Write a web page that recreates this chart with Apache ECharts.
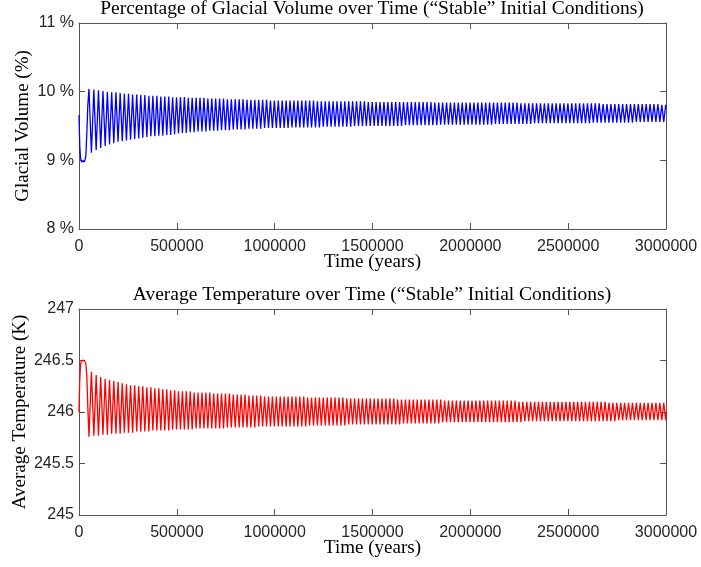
<!DOCTYPE html>
<html>
<head>
<meta charset="utf-8">
<title>Glacial volume and temperature</title>
<script src="https://cdn.jsdelivr.net/npm/echarts@6/dist/echarts.min.js"></script>
<style>
  html, body { margin: 0; padding: 0; background: #fff; }
  #chart { width: 701px; height: 567px; }
</style>
</head>
<body>
<div id="chart"></div>
<script>
// ---- Simulation output (times in thousands of years) ----

// Initial transient before the first ice maximum
const startTimes = [0, 4, 8, 13, 20, 28, 35, 40, 45];
const startVolume = [9.66, 9.20, 9.03, 8.98, 8.97, 8.98, 9.06, 9.40, 9.80];
const startTemperature = [246.00, 246.32, 246.46, 246.50, 246.51, 246.50, 246.47, 246.35, 246.05];

// Times of each ice-volume maximum (cycle crest)
const iceMaxTimes = [
  51, 76, 99.5, 122.5, 145, 167, 188.8, 210.4, 231.8, 253,
  274, 294.9, 315.7, 336.4, 357, 377.5, 397.9, 418.2, 438.4, 458.5,
  478.5,
  498.5, 518.5, 538.5, 558.5, 578.5, 598.5, 618.5, 638.5, 658.5, 678.5,
  698.5, 718.5, 738.5, 758.5, 778.5, 798.5, 818.5, 838.5, 858.5, 878.5,
  898.5, 918.5, 938.5, 958.5, 978.5, 998.5, 1018.5, 1038.5, 1058.5, 1078.5,
  1098.5, 1118.5, 1138.5, 1158.5, 1178.5, 1198.5, 1218.5, 1238.5, 1258.5, 1278.5,
  1298.5, 1318.5, 1338.5, 1358.5, 1378.5, 1398.5, 1418.5, 1438.5, 1458.5, 1478.5,
  1498.5, 1518.5, 1538.5, 1558.5, 1578.5, 1598.5, 1618.5, 1638.5, 1658.5, 1678.5,
  1698.5, 1718.5, 1738.5, 1758.5, 1778.5, 1798.5, 1818.5, 1838.5, 1858.5, 1878.5,
  1898.5, 1918.5, 1938.5, 1958.5, 1978.5, 1998.5, 2018.5, 2038.5, 2058.5, 2078.5,
  2098.5, 2118.5, 2138.5, 2158.5, 2178.5, 2198.5, 2218.5, 2238.5, 2258.5, 2278.5,
  2298.5, 2318.5, 2338.5, 2358.5, 2378.5, 2398.5, 2418.5, 2438.5, 2458.5, 2478.5,
  2498.5, 2518.5, 2538.5, 2558.5, 2578.5, 2598.5, 2618.5, 2638.5, 2658.5, 2678.5,
  2698.5, 2718.5, 2738.5, 2758.5, 2778.5, 2798.5, 2818.5, 2838.5, 2858.5, 2878.5,
  2898.5, 2918.5, 2938.5, 2958.5, 2978.5, 2998.5
];

// Times of each ice-volume minimum (cycle trough)
const iceMinTimes = [
  63.5, 87.8, 111, 133.8, 156, 177.9, 199.6, 221.1, 242.4, 263.5,
  284.5, 305.3, 326, 346.7, 367.3, 387.7, 408, 428.3, 448.5, 468.5,
  488.5,
  508.5, 528.5, 548.5, 568.5, 588.5, 608.5, 628.5, 648.5, 668.5, 688.5,
  708.5, 728.5, 748.5, 768.5, 788.5, 808.5, 828.5, 848.5, 868.5, 888.5,
  908.5, 928.5, 948.5, 968.5, 988.5, 1008.5, 1028.5, 1048.5, 1068.5, 1088.5,
  1108.5, 1128.5, 1148.5, 1168.5, 1188.5, 1208.5, 1228.5, 1248.5, 1268.5, 1288.5,
  1308.5, 1328.5, 1348.5, 1368.5, 1388.5, 1408.5, 1428.5, 1448.5, 1468.5, 1488.5,
  1508.5, 1528.5, 1548.5, 1568.5, 1588.5, 1608.5, 1628.5, 1648.5, 1668.5, 1688.5,
  1708.5, 1728.5, 1748.5, 1768.5, 1788.5, 1808.5, 1828.5, 1848.5, 1868.5, 1888.5,
  1908.5, 1928.5, 1948.5, 1968.5, 1988.5, 2008.5, 2028.5, 2048.5, 2068.5, 2088.5,
  2108.5, 2128.5, 2148.5, 2168.5, 2188.5, 2208.5, 2228.5, 2248.5, 2268.5, 2288.5,
  2308.5, 2328.5, 2348.5, 2368.5, 2388.5, 2408.5, 2428.5, 2448.5, 2468.5, 2488.5,
  2508.5, 2528.5, 2548.5, 2568.5, 2588.5, 2608.5, 2628.5, 2648.5, 2668.5, 2688.5,
  2708.5, 2728.5, 2748.5, 2768.5, 2788.5, 2808.5, 2828.5, 2848.5, 2868.5, 2888.5,
  2908.5, 2928.5, 2948.5, 2968.5, 2988.5
];

// Glacial volume (%) at each crest
const volumeMax = [
  10.04, 10.03, 10.02, 10.01, 10.00, 9.99, 9.99, 9.98, 9.97, 9.97,
  9.96, 9.96, 9.95, 9.95, 9.94, 9.94, 9.94, 9.93, 9.93, 9.93,
  9.92,
  9.92, 9.92, 9.92, 9.91, 9.91, 9.91, 9.91, 9.91, 9.90, 9.90,
  9.90, 9.90, 9.90, 9.89, 9.89, 9.89, 9.89, 9.89, 9.88, 9.88,
  9.88, 9.88, 9.88, 9.88, 9.87, 9.87,
  9.87, 9.87, 9.87, 9.87, 9.87, 9.87, 9.87, 9.87, 9.87, 9.87,
  9.86, 9.86, 9.86, 9.86, 9.86, 9.86, 9.86, 9.86, 9.86, 9.86,
  9.86, 9.86, 9.86, 9.85, 9.85,
  9.85, 9.85, 9.85, 9.85, 9.85, 9.85, 9.85, 9.85, 9.85, 9.85,
  9.85, 9.85, 9.85, 9.85, 9.85, 9.84, 9.84, 9.84, 9.84, 9.84,
  9.84, 9.84, 9.84, 9.84, 9.84,
  9.84, 9.84, 9.84, 9.84, 9.84, 9.84, 9.84, 9.84, 9.84, 9.84,
  9.84, 9.84, 9.83, 9.83, 9.83, 9.83, 9.83, 9.83, 9.83, 9.83,
  9.83, 9.83, 9.83, 9.83, 9.83,
  9.83, 9.83, 9.83, 9.83, 9.83, 9.83, 9.83, 9.83, 9.82, 9.82,
  9.82, 9.82, 9.82, 9.82, 9.82, 9.82, 9.82, 9.82, 9.82, 9.82,
  9.82, 9.82, 9.82, 9.81, 9.81
];

// Glacial volume (%) at each trough
const volumeMin = [
  9.11, 9.15, 9.18, 9.21, 9.23, 9.25, 9.27, 9.28, 9.29, 9.30,
  9.31, 9.32, 9.33, 9.34, 9.35, 9.35, 9.36, 9.36, 9.37, 9.37,
  9.38,
  9.39, 9.40, 9.40, 9.41, 9.41, 9.42, 9.42, 9.42, 9.43, 9.43,
  9.43, 9.44, 9.44, 9.44, 9.45, 9.45, 9.45, 9.45, 9.46, 9.46,
  9.46, 9.46, 9.47, 9.47, 9.47,
  9.47, 9.47, 9.47, 9.47, 9.48, 9.48, 9.48, 9.48, 9.48, 9.48,
  9.48, 9.48, 9.49, 9.49, 9.49, 9.49, 9.49, 9.49, 9.49, 9.49,
  9.50, 9.50, 9.50, 9.50, 9.50,
  9.50, 9.50, 9.50, 9.50, 9.50, 9.50, 9.50, 9.50, 9.51, 9.51,
  9.51, 9.51, 9.51, 9.51, 9.51, 9.51, 9.51, 9.52, 9.52, 9.52,
  9.52, 9.52, 9.52, 9.52, 9.52,
  9.52, 9.52, 9.52, 9.52, 9.52, 9.52, 9.53, 9.53, 9.53, 9.53,
  9.53, 9.53, 9.53, 9.53, 9.53, 9.53, 9.54, 9.54, 9.54, 9.54,
  9.54, 9.54, 9.54, 9.54, 9.54,
  9.54, 9.54, 9.54, 9.54, 9.54, 9.54, 9.55, 9.55, 9.55, 9.55,
  9.55, 9.55, 9.55, 9.55, 9.55, 9.55, 9.55, 9.56, 9.56, 9.56,
  9.56, 9.56, 9.56, 9.56, 9.56
];

// Average temperature (K) at each ice crest (temperature low)
const temperatureMin = [
  245.76, 245.77, 245.77, 245.78, 245.78, 245.79, 245.79, 245.79, 245.80, 245.80,
  245.80, 245.81, 245.81, 245.81, 245.81, 245.82, 245.82, 245.82, 245.82, 245.82,
  245.83,
  245.83, 245.83, 245.83, 245.83, 245.83, 245.84, 245.84, 245.84, 245.84, 245.84,
  245.84, 245.84, 245.84, 245.85, 245.85, 245.85, 245.85, 245.85, 245.85, 245.85,
  245.85, 245.86, 245.86, 245.86, 245.86, 245.86,
  245.86, 245.86, 245.86, 245.86, 245.86, 245.86, 245.86, 245.86, 245.87, 245.87,
  245.87, 245.87, 245.87, 245.87, 245.87, 245.87, 245.87, 245.87, 245.88, 245.88,
  245.88, 245.88, 245.88, 245.88, 245.88,
  245.88, 245.88, 245.88, 245.88, 245.88, 245.88, 245.88, 245.89, 245.89, 245.89,
  245.89, 245.89, 245.89, 245.89, 245.89, 245.89, 245.89, 245.90, 245.90, 245.90,
  245.90, 245.90, 245.90, 245.90, 245.90,
  245.90, 245.90, 245.90, 245.90, 245.90, 245.90, 245.90, 245.90, 245.90, 245.90,
  245.90, 245.90, 245.90, 245.91, 245.91, 245.91, 245.91, 245.91, 245.91, 245.91,
  245.91, 245.91, 245.91, 245.91, 245.91,
  245.91, 245.91, 245.91, 245.91, 245.91, 245.91, 245.91, 245.91, 245.91, 245.91,
  245.91, 245.91, 245.92, 245.92, 245.92, 245.92, 245.92, 245.92, 245.92, 245.92,
  245.92, 245.92, 245.92, 245.92, 245.92
];

// Average temperature (K) at each ice trough (temperature high)
const temperatureMax = [
  246.39, 246.36, 246.34, 246.32, 246.31, 246.30, 246.29, 246.28, 246.27, 246.26,
  246.26, 246.25, 246.25, 246.24, 246.24, 246.23, 246.23, 246.22, 246.22, 246.21,
  246.21,
  246.20, 246.20, 246.20, 246.20, 246.19, 246.19, 246.19, 246.19, 246.19, 246.18,
  246.18, 246.18, 246.18, 246.18, 246.17, 246.17, 246.17, 246.17, 246.16, 246.16,
  246.16, 246.16, 246.15, 246.15, 246.15,
  246.15, 246.15, 246.15, 246.15, 246.15, 246.15, 246.15, 246.15, 246.14, 246.14,
  246.14, 246.14, 246.14, 246.14, 246.14, 246.14, 246.14, 246.14, 246.13, 246.13,
  246.13, 246.13, 246.13, 246.13, 246.13,
  246.13, 246.13, 246.13, 246.13, 246.13, 246.13, 246.12, 246.12, 246.12, 246.12,
  246.12, 246.12, 246.12, 246.12, 246.12, 246.12, 246.12, 246.12, 246.11, 246.11,
  246.11, 246.11, 246.11, 246.11, 246.11,
  246.11, 246.11, 246.11, 246.11, 246.11, 246.11, 246.11, 246.11, 246.11, 246.11,
  246.11, 246.11, 246.10, 246.10, 246.10, 246.10, 246.10, 246.10, 246.10, 246.10,
  246.10, 246.10, 246.10, 246.10, 246.10,
  246.10, 246.10, 246.10, 246.10, 246.10, 246.10, 246.10, 246.10, 246.10, 246.10,
  246.09, 246.09, 246.09, 246.09, 246.09, 246.09, 246.09, 246.09, 246.09, 246.09,
  246.09, 246.09, 246.09, 246.09, 246.09
];

// Final sample at the end of the run
const endTime = 3000;
const endVolume = 9.75;
const endTemperature = 246.00;

// Axis tick labels
const timeTicks = [0, 500000, 1000000, 1500000, 2000000, 2500000, 3000000];
const volumeTicks = ['8 %', '9 %', '10 %', '11 %'];
const temperatureTicks = ['245', '245.5', '246', '246.5', '247'];

// Interleave crest / trough samples into one [years, value] polyline
function buildTrace(startVals, atMaxTimes, atMinTimes, endVal) {
  const pts = [];
  startTimes.forEach((t, i) => pts.push([t * 1000, startVals[i]]));
  iceMaxTimes.forEach((t, k) => {
    pts.push([t * 1000, atMaxTimes[k]]);
    if (k < iceMinTimes.length) pts.push([iceMinTimes[k] * 1000, atMinTimes[k]]);
  });
  pts.push([endTime * 1000, endVal]);
  return pts;
}

const volumeTrace = buildTrace(startVolume, volumeMax, volumeMin, endVolume);
const temperatureTrace = buildTrace(startTemperature, temperatureMin, temperatureMax, endTemperature);

// ---- Styling ----
const boxColor = '#555555';
const labelColor = '#262626';
const sansFont = '"Liberation Sans", Arial, sans-serif';
const serifFont = '"Liberation Serif", "Times New Roman", serif';

function timeAxis(grid, primary) {
  return {
    gridIndex: grid,
    type: 'value',
    position: primary ? 'bottom' : 'top',
    min: timeTicks[0],
    max: timeTicks[timeTicks.length - 1],
    interval: timeTicks[1] - timeTicks[0],
    axisLine: { show: true, onZero: false, lineStyle: { color: boxColor, width: 1 } },
    axisTick: { show: true, inside: true, length: 6, lineStyle: { color: boxColor } },
    axisLabel: {
      show: primary, margin: 10, color: labelColor,
      fontFamily: sansFont, fontSize: 16,
      formatter: v => String(v)
    },
    splitLine: { show: false },
    name: primary ? 'Time (years)' : '',
    nameLocation: 'middle',
    nameGap: 24,
    nameMoveOverlap: false,
    nameTextStyle: { fontFamily: serifFont, fontSize: 19, color: '#000' }
  };
}

function valueAxis(grid, primary, min, max, interval, labels, name, nameGap) {
  return {
    gridIndex: grid,
    type: 'value',
    position: primary ? 'left' : 'right',
    min: min, max: max, interval: interval,
    axisLine: { show: true, onZero: false, lineStyle: { color: boxColor, width: 1 } },
    axisTick: { show: true, inside: true, length: 6, lineStyle: { color: boxColor } },
    axisLabel: {
      show: primary, margin: 5, color: labelColor,
      fontFamily: sansFont, fontSize: 16,
      formatter: v => labels[Math.round((v - min) / interval)]
    },
    splitLine: { show: false },
    name: primary ? name : '',
    nameLocation: 'middle',
    nameRotate: 90,
    nameGap: nameGap,
    nameMoveOverlap: false,
    nameTextStyle: { fontFamily: serifFont, fontSize: 19, color: '#000' }
  };
}

const chart = echarts.init(document.getElementById('chart'), null, { renderer: 'canvas' });

chart.setOption({
  animation: false,
  backgroundColor: '#ffffff',
  grid: [
    { left: 79, right: 35, top: 23, height: 206, outerBoundsMode: 'none', containLabel: false },
    { left: 79, right: 35, top: 309, height: 206, outerBoundsMode: 'none', containLabel: false }
  ],
  graphic: [
    {
      type: 'text', x: 372, y: 9,
      style: {
        text: 'Percentage of Glacial Volume over Time (\u201CStable\u201D Initial Conditions)',
        font: '19.5px ' + serifFont, fill: '#000', align: 'center', verticalAlign: 'middle'
      }
    },
    {
      type: 'text', x: 372, y: 295,
      style: {
        text: 'Average Temperature over Time (\u201CStable\u201D Initial Conditions)',
        font: '19.5px ' + serifFont, fill: '#000', align: 'center', verticalAlign: 'middle'
      }
    }
  ],
  xAxis: [
    timeAxis(0, true), timeAxis(0, false),
    timeAxis(1, true), timeAxis(1, false)
  ],
  yAxis: [
    valueAxis(0, true, 8, 11, 1, volumeTicks, 'Glacial Volume (%)', 46),
    valueAxis(0, false, 8, 11, 1, volumeTicks, '', 0),
    valueAxis(1, true, 245, 247, 0.5, temperatureTicks, 'Average Temperature (K)', 49),
    valueAxis(1, false, 245, 247, 0.5, temperatureTicks, '', 0)
  ],
  series: [
    {
      type: 'line', xAxisIndex: 0, yAxisIndex: 0,
      data: volumeTrace, showSymbol: false, symbol: 'none',
      sampling: null, silent: true,
      lineStyle: { color: '#0000ff', width: 1.3 }
    },
    {
      type: 'line', xAxisIndex: 2, yAxisIndex: 2,
      data: temperatureTrace, showSymbol: false, symbol: 'none',
      sampling: null, silent: true,
      lineStyle: { color: '#ff0000', width: 1.3 }
    }
  ]
});
</script>
</body>
</html>
